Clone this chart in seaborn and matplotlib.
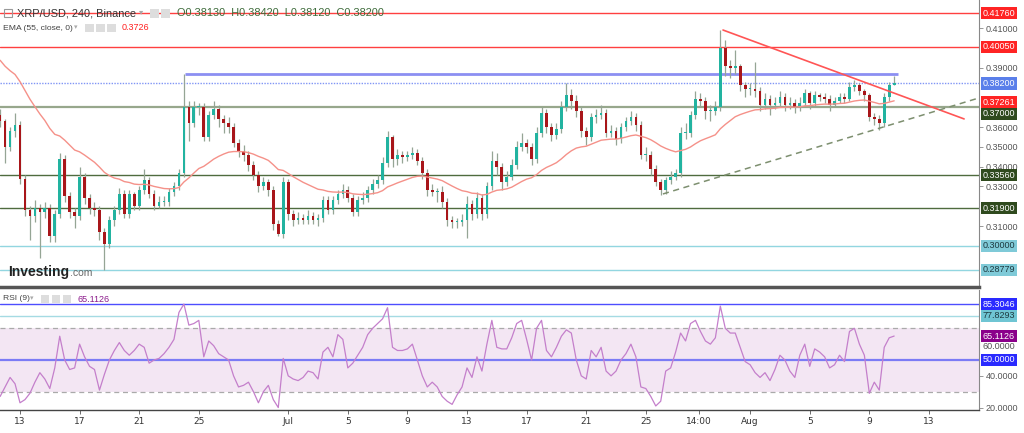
import numpy as np
import pandas as pd
import matplotlib
matplotlib.use("Agg")
import matplotlib.pyplot as plt
from matplotlib.patches import Rectangle
import seaborn as sns

# XRP/USD candles (8h steps), day 0 = Jun 13 00:00
first_day = -4 / 3
open_first = 0.366
closes = [
    .363, .350, .358, .361, .334, .318, .315, .319, .317, .319,
    .305, .316, .344, .325, .317, .315, .335, .324, .319, .318,
    .307, .301, .313, .318, .326, .316, .326, .320, .328, .333,
    .326, .320, .322, .322, .327, .330, .337, .370, .362, .370,
    .370, .355, .366, .369, .364, .362, .360, .352, .348, .346,
    .341, .336, .330, .332, .328, .311, .306, .332, .316, .313,
    .314, .313, .315, .313, .314, .323, .318, .323, .326, .328,
    .324, .317, .323, .324, .328, .331, .333, .342, .355, .344,
    .346, .345, .346, .347, .343, .337, .328, .327, .327, .322,
    .313, .312, .312, .313, .321, .316, .324, .316, .330, .343,
    .340, .332, .335, .341, .350, .352, .350, .344, .357, .367,
    .360, .356, .359, .370, .376, .373, .368, .358, .355, .365,
    .366, .367, .357, .358, .354, .360, .363, .365, .361, .346,
    .346, .339, .332, .328, .333, .335, .337, .357, .357, .366,
    .374, .373, .368, .368, .370, .400, .391, .390, .391, .381,
    .379, .379, .378, .371, .374, .371, .372, .375, .371, .372,
    .370, .372, .377, .372, .376, .375, .374, .371, .373, .375,
    .374, .380, .381, .378, .376, .365, .364, .362, .375, .3813,
    .382,
]
highs = [
    .369, .364, .360, .367, .363, .336, .320, .323, .321, .322,
    .321, .318, .347, .346, .327, .319, .340, .337, .326, .322,
    .320, .309, .315, .320, .329, .328, .328, .327, .330, .339,
    .335, .328, .325, .325, .329, .332, .339, .3866, .373, .373,
    .372, .372, .368, .373, .371, .366, .365, .362, .354, .351,
    .348, .343, .338, .335, .334, .330, .313, .335, .334, .318,
    .317, .316, .318, .317, .316, .325, .325, .325, .328, .331,
    .330, .326, .325, .327, .330, .334, .336, .345, .358, .356,
    .349, .348, .348, .350, .349, .345, .339, .331, .329, .330,
    .324, .315, .314, .316, .325, .323, .327, .326, .332, .348,
    .347, .342, .338, .344, .353, .357, .354, .352, .360, .370,
    .369, .362, .362, .373, .382, .379, .376, .370, .360, .367,
    .369, .371, .369, .361, .360, .362, .365, .368, .367, .363,
    .350, .348, .341, .334, .335, .338, .339, .360, .362, .368,
    .378, .377, .375, .371, .373, .409, .404, .394, .399, .392,
    .383, .382, .393, .380, .377, .376, .375, .378, .377, .375,
    .374, .375, .379, .378, .378, .377, .377, .376, .375, .377,
    .377, .383, .384, .382, .379, .377, .367, .366, .377, .383,
    .3858,
]
lows = [
    .360, .342, .348, .355, .331, .315, .303, .312, .294, .314,
    .302, .302, .314, .322, .314, .309, .313, .321, .316, .315,
    .303, .2878, .299, .310, .316, .314, .314, .318, .318, .326,
    .324, .318, .319, .320, .320, .325, .328, .335, .353, .360,
    .366, .353, .353, .364, .360, .357, .357, .350, .345, .343,
    .338, .333, .327, .328, .325, .308, .305, .304, .313, .310,
    .311, .311, .311, .311, .310, .312, .316, .316, .321, .324,
    .322, .315, .315, .321, .322, .326, .329, .331, .340, .340,
    .341, .342, .343, .344, .341, .334, .325, .325, .322, .319,
    .310, .309, .309, .310, .304, .313, .314, .313, .314, .328,
    .336, .328, .330, .333, .339, .348, .347, .341, .342, .355,
    .357, .353, .354, .357, .368, .369, .365, .355, .351, .353,
    .362, .364, .355, .355, .351, .352, .358, .361, .358, .344,
    .343, .336, .330, .3256, .326, .331, .333, .335, .354, .355,
    .364, .370, .364, .363, .366, .368, .386, .385, .387, .378,
    .375, .376, .375, .368, .369, .366, .369, .370, .368, .369,
    .367, .368, .370, .369, .370, .373, .372, .368, .370, .372,
    .372, .373, .378, .376, .373, .363, .361, .3585, .360, .373,
    .3812,
]
ema_start = 0.396
rsi_values = [
    27, 33, 39, 35, 23, 25, 29, 36, 42, 38,
    32, 45, 65, 50, 44, 45, 60, 52, 46, 44,
    31, 41, 50, 56, 61, 56, 53, 56, 60, 58,
    48, 50, 51, 54, 58, 63, 80, 85.3, 72, 73,
    75, 52, 62, 59, 54, 52, 50, 40, 33, 34,
    36, 30, 23, 30, 34, 25, 20, 51, 40, 38,
    37, 39, 43, 42, 38, 55, 58, 52, 66, 63,
    45, 48, 53, 58, 66, 70, 73, 76, 83, 58,
    56, 56, 57, 60, 50, 40, 33, 36, 33, 27,
    24, 22, 28, 33, 45, 39, 52, 43, 60, 75,
    58, 57, 57, 64, 73, 75, 63, 50, 70, 75,
    56, 52, 58, 65, 69, 67, 50, 40, 38, 56,
    52, 58, 43, 40, 43, 50, 54, 60, 52, 33,
    32, 27, 21, 24, 43, 45, 55, 67, 62, 73,
    75, 68, 62, 60, 64, 84, 70, 67, 67, 58,
    49, 47, 42, 39, 42, 37, 44, 53, 50, 43,
    39, 53, 60, 46, 57, 55, 52, 45, 47, 53,
    49, 68, 70, 60, 53, 29, 36, 31, 58, 64,
    65.11,
]

tick_days = [0, 4, 8, 12, 18, 22, 26, 30, 34, 38, 42, 45.58, 49, 53, 57, 61]
tick_labels = ["13", "17", "21", "25", "Jul", "5", "9", "13", "17", "21", "25",
               "14:00", "Aug", "5", "9", "13"]
price_ticks = [0.31, 0.33, 0.34, 0.35, 0.36, 0.39, 0.41]

# drawn levels and trendlines
red_levels = [0.4176, 0.4005]
green_levels = [0.3356, 0.319]
mid_level = 0.37
cyan_levels = [0.30, 0.28779]
last_price = 0.382
ema_last = 0.37261
resistance = 0.3866
resistance_days = [11.07, 58.93]
down_days = [47.18, 63.36]
down_prices = [0.409, 0.3641]
up_days = [43.15, 64.4]
up_prices = [0.3262, 0.3748]
rsi_levels = {"upper": 85.3046, "second": 77.8293, "mid": 50.0}
rsi_last = 65.1126

sns.set_theme(style="white")
plt.rcParams['font.family'] = ['Liberation Sans', 'DejaVu Sans']

W, H = 1024, 433
fig = plt.figure(figsize=(W / 100, H / 100), dpi=100)
ax = fig.add_axes([0, 1 - 287 / H, 979 / W, 287 / H])
ax_rsi = fig.add_axes([0, 1 - 410 / H, 979 / W, 120 / H])

days = first_day + np.arange(len(closes)) / 3
c = np.array(closes)
o = np.array([open_first] + closes[:-1])
up = c >= o
body_col = np.where(up, "#22b3a0", "#a8161a")

# horizontal levels
for lv in red_levels:
    ax.axhline(lv, color="#ff4040", lw=1, zorder=1)
for lv in green_levels:
    ax.axhline(lv, color="#4f6b3f", lw=1, zorder=1)
ax.axhline(mid_level, color="#97a78c", lw=1.6, zorder=1)
for lv in cyan_levels:
    ax.axhline(lv, color="#92d6e0", lw=1, zorder=1)
ax.axhline(last_price, color="#8095f5", lw=1, ls=(0, (1, 1)), zorder=1)
ax.hlines(resistance, *resistance_days, color="#8c8ff2", lw=2, zorder=2)
ax.plot(down_days, down_prices, color="#ff5555", lw=1.2, zorder=4)
ax.plot(up_days, up_prices, color="#7d8f6f", lw=1.1, ls=(0, (4, 3)), zorder=4)

# candles
ax.vlines(days, lows, highs, color="#95a595", lw=0.9, zorder=2)
ax.bar(days, np.maximum(np.abs(c - o), 0.0005), bottom=np.minimum(o, c),
       width=0.18, color=body_col, linewidth=0, zorder=3)

# EMA 55 on 4h ~ span 28 on these 8h closes
ema = pd.Series([ema_start] + closes).ewm(span=28, adjust=False).mean().iloc[1:].values
sns.lineplot(x=days, y=ema, ax=ax, color="#f59189", lw=1, zorder=3)

ax.set_xlim(-1.342, 64.36)
ax.set_ylim(0.27920, 0.42417)
ax.yaxis.tick_right()
ax.set_yticks(price_ticks)
ax.set_yticklabels([f"{v:.5f}" for v in price_ticks])
ax.tick_params(axis="y", labelsize=6.5, labelcolor="#555555", length=3, width=0.6,
               color="#888888", pad=2, right=True)
ax.tick_params(axis="x", bottom=False, labelbottom=False)
for s in ["top", "left"]:
    ax.spines[s].set_visible(False)
ax.spines["right"].set_color("#888888")
ax.spines["right"].set_linewidth(0.8)
ax.spines["bottom"].set_color("#555555")
ax.spines["bottom"].set_linewidth(2.5)

def price_box(a, y, txt, fc, tc="white"):
    a.text(1.004, y, txt, transform=a.get_yaxis_transform(), ha="left", va="center",
           fontsize=6.5, color=tc, zorder=10, clip_on=False,
           bbox=dict(boxstyle="square,pad=0.18", fc=fc, ec="none"))

for lv in red_levels:
    price_box(ax, lv, f"{lv:.5f}", "#ff2424")
price_box(ax, last_price, f"{last_price:.5f}", "#5a7fea")
price_box(ax, ema_last, f"{ema_last:.5f}", "#ff2424")
price_box(ax, mid_level - 0.0034, f"{mid_level:.5f}", "#2f4a1e")
for lv in green_levels:
    price_box(ax, lv, f"{lv:.5f}", "#2f4a1e")
for lv in cyan_levels:
    price_box(ax, lv, f"{lv:.5f}", "#7fcad8", "#1e3a40")

# RSI panel
ax_rsi.axhspan(30, 70, color="#f3e6f3", lw=0, zorder=0)
ax_rsi.axhline(70, color="#aaaaaa", lw=0.9, ls=(0, (4, 3)), zorder=1)
ax_rsi.axhline(30, color="#aaaaaa", lw=0.9, ls=(0, (4, 3)), zorder=1)
ax_rsi.axhline(rsi_levels["upper"], color="#4d4dff", lw=1, zorder=1)
ax_rsi.axhline(rsi_levels["second"], color="#a5dbe3", lw=1, zorder=1)
ax_rsi.axhline(rsi_levels["mid"], color="#7b7bf5", lw=1.6, zorder=1)
sns.lineplot(x=days, y=rsi_values, ax=ax_rsi, color="#c47fcb", lw=0.9, zorder=3)

ax_rsi.set_xlim(-1.342, 64.36)
ax_rsi.set_ylim(18.45, 94.16)
ax_rsi.yaxis.tick_right()
ax_rsi.set_yticks([20, 40])
ax_rsi.set_yticklabels(["20.0000", "40.0000"])
ax_rsi.tick_params(axis="y", labelsize=6.5, labelcolor="#555555", length=3, width=0.6,
                   color="#888888", pad=2, right=True)
ax_rsi.set_xticks(tick_days)
ax_rsi.set_xticklabels(tick_labels, family=['Liberation Sans Narrow', 'DejaVu Sans'])
ax_rsi.tick_params(axis="x", labelsize=6.5, labelcolor="#333333", length=3, width=0.6,
                   color="#555555", pad=2, bottom=True)
for s in ["top", "left"]:
    ax_rsi.spines[s].set_visible(False)
ax_rsi.spines["right"].set_color("#888888")
ax_rsi.spines["right"].set_linewidth(0.8)
ax_rsi.spines["bottom"].set_color("#444444")
ax_rsi.spines["bottom"].set_linewidth(1)

price_box(ax_rsi, rsi_levels["upper"], f"{rsi_levels['upper']:.4f}", "#2a2aff")
price_box(ax_rsi, rsi_levels["second"], f"{rsi_levels['second']:.4f}", "#6fc5d3", "#1e3a40")
price_box(ax_rsi, rsi_last, f"{rsi_last:.4f}", "#8b008b")
price_box(ax_rsi, rsi_levels["mid"], f"{rsi_levels['mid']:.4f}", "#2a2aff")
# 60 tick label sits just under the 65.1126 box, as in the original
ax_rsi.text(1.004, 58.6, "60.0000", transform=ax_rsi.get_yaxis_transform(), ha="left",
            va="center", fontsize=6.5, color="#555555", clip_on=False)

# header texts
def fx(px):
    return px / W

def fy(py):
    return 1 - py / H

fig.patches.append(Rectangle((fx(4), fy(17)), fx(8), 8 / H, transform=fig.transFigure,
                             fill=False, ec="#999999", lw=0.8))
fig.text(fx(17), fy(13), "XRP/USD, 240, Binance", fontsize=7.9, color="#333333", va="center")
fig.text(fx(139), fy(13), "▾", fontsize=6, color="#aaaaaa", va="center")
for px in [150, 161]:
    fig.patches.append(Rectangle((fx(px), fy(18)), fx(9), 9 / H, transform=fig.transFigure,
                                 fc="#dddddd", ec="none"))
fig.text(fx(177), fy(13), "O0.38130  H0.38420  L0.38120  C0.38200", fontsize=7.9,
         color="#3d6b3a", va="center")

fig.text(fx(3), fy(28), "EMA (55, close, 0)", fontsize=6.1, color="#444444", va="center")
fig.text(fx(74), fy(28), "▾", fontsize=5, color="#aaaaaa", va="center")
for px in [85, 96, 107]:
    fig.patches.append(Rectangle((fx(px), fy(32)), fx(9), 8 / H, transform=fig.transFigure,
                                 fc="#dddddd", ec="none"))
fig.text(fx(122), fy(28), "0.3726", fontsize=6.5, color="#ff2020", va="center")

fig.text(fx(3), fy(299), "RSI (9)", fontsize=6.1, color="#444444", va="center")
fig.text(fx(30), fy(299), "▾", fontsize=5, color="#aaaaaa", va="center")
for px in [41, 52, 63]:
    fig.patches.append(Rectangle((fx(px), fy(303)), fx(8), 8 / H, transform=fig.transFigure,
                                 fc="#dddddd", ec="none"))
fig.text(fx(78), fy(299), "65.1126", fontsize=6.5, color="#8b1a8b", va="center")

# watermark
fig.text(fx(8), fy(276), "Investing", fontsize=10, fontweight="bold", color="#222222",
         va="baseline")
fig.text(fx(70), fy(276), ".com", fontsize=7.5, color="#666666", va="baseline")

fig.savefig("out.png", dpi=100)
